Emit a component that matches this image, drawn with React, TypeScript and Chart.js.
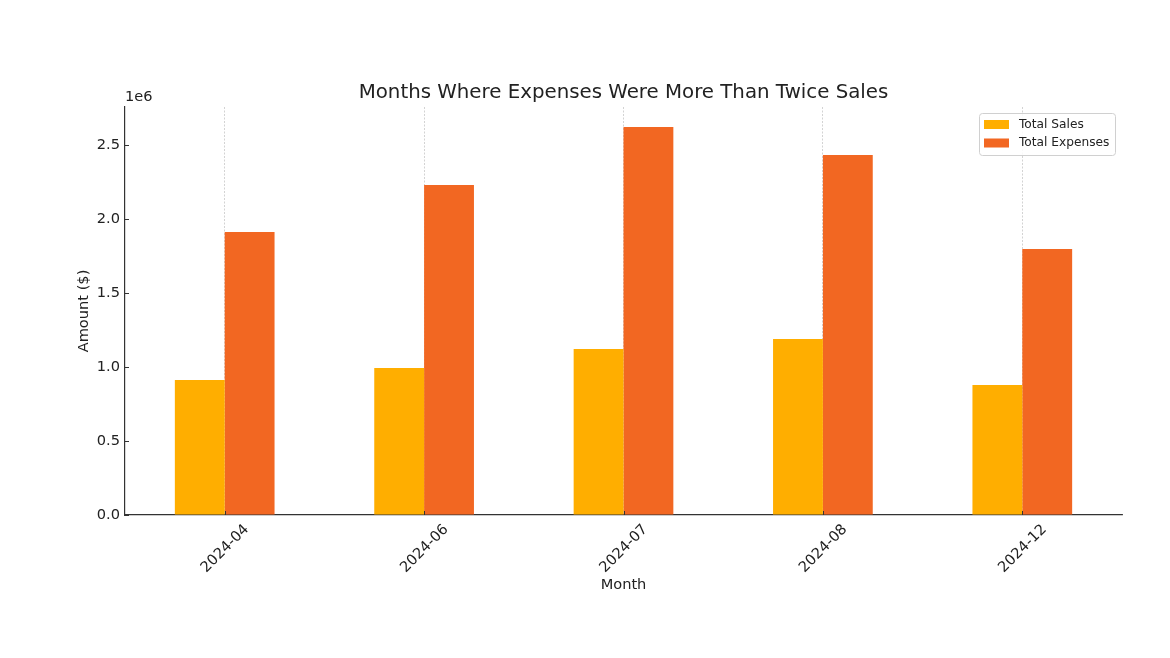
import React, { useEffect, useRef } from "react";
import { Chart, registerables } from "chart.js";

Chart.register(...registerables);

const months = ["2024-04", "2024-06", "2024-07", "2024-08", "2024-12"];
const totalSales = [912000, 993000, 1122000, 1189000, 878000];
const totalExpenses = [1912000, 2230000, 2622000, 2432000, 1797000];
const yTicks = [0, 500000, 1000000, 1500000, 2000000, 2500000];

const chartTitle = "Months Where Expenses Were More Than Twice Sales";
const salesColor = "#FFAE00";
const expensesColor = "#F26722";
const FONT = "'DejaVu Sans', sans-serif";
const TICK_SIZE = 14.6;

const overlayPlugin = {
  id: "overlay",
  afterDraw(chart: any) {
    const { ctx, chartArea, scales } = chart;
    ctx.save();
    // inward tick marks
    ctx.strokeStyle = "#333";
    ctx.lineWidth = 1;
    ctx.beginPath();
    yTicks.forEach((v) => {
      const py = Math.round(scales.y.getPixelForValue(v)) + 0.5;
      ctx.moveTo(chartArea.left, py);
      ctx.lineTo(chartArea.left + 4, py);
    });
    months.forEach((_, i) => {
      const px = Math.round(scales.x.getPixelForValue(i)) + 0.5;
      ctx.moveTo(px, chartArea.bottom);
      ctx.lineTo(px, chartArea.bottom - 4);
    });
    ctx.stroke();
    // title
    ctx.fillStyle = "#222";
    ctx.font = `19.8px ${FONT}`;
    ctx.textAlign = "center";
    ctx.textBaseline = "middle";
    ctx.fillText(chartTitle, (chartArea.left + chartArea.right) / 2, 93);
    // offset text
    ctx.font = `${TICK_SIZE}px ${FONT}`;
    ctx.textAlign = "left";
    ctx.fillText("1e6", chartArea.left, 97);
    // legend
    const lx = 979, ly = 113, lw = 136, lh = 42;
    ctx.beginPath();
    (ctx as any).roundRect(lx + 0.5, ly + 0.5, lw, lh, 3);
    ctx.fillStyle = "rgba(255,255,255,0.85)";
    ctx.fill();
    ctx.strokeStyle = "#d0d0d0";
    ctx.lineWidth = 1;
    ctx.stroke();
    const items = [
      { label: "Total Sales", color: salesColor },
      { label: "Total Expenses", color: expensesColor },
    ];
    ctx.font = `12.2px ${FONT}`;
    ctx.textBaseline = "middle";
    items.forEach((it, i) => {
      const cy = 124.5 + i * 18.5;
      ctx.fillStyle = it.color;
      ctx.fillRect(984, cy - 4.5, 25, 9);
      ctx.fillStyle = "#222";
      ctx.fillText(it.label, 1019, cy);
    });
    ctx.restore();
  },
};

export default function App() {
  const ref = useRef<HTMLCanvasElement | null>(null);
  useEffect(() => {
    if (!ref.current) return;
    const chart = new Chart(ref.current, {
      type: "bar",
      data: {
        labels: months,
        datasets: [
          {
            label: "Total Sales",
            data: totalSales,
            backgroundColor: salesColor,
            categoryPercentage: 0.5,
            barPercentage: 1.0,
          },
          {
            label: "Total Expenses",
            data: totalExpenses,
            backgroundColor: expensesColor,
            categoryPercentage: 0.5,
            barPercentage: 1.0,
          },
        ],
      },
      options: {
        animation: false,
        responsive: false,
        maintainAspectRatio: false,
        layout: { padding: { left: 0, right: 48, top: 107, bottom: 0 } },
        plugins: {
          legend: { display: false },
          title: { display: false },
          tooltip: { enabled: false },
        },
        scales: {
          x: {
            type: "category",
            afterFit: (s: any) => {
              s.height = 143;
            },
            grid: {
              display: true,
              offset: false,
              drawOnChartArea: true,
              drawTicks: false,
              color: "#c8c8c8",
              lineWidth: 0.8,
            },
            border: { display: true, color: "#333", width: 1.2, dash: [2, 1.5] },
            ticks: {
              color: "#222",
              font: { family: FONT, size: TICK_SIZE },
              maxRotation: 45,
              minRotation: 45,
              labelOffset: 22,
              padding: 6,
            },
            title: {
              display: true,
              text: "Month",
              color: "#222",
              font: { family: FONT, size: TICK_SIZE },
              padding: { top: 0, bottom: 64 },
            },
          },
          y: {
            min: 0,
            max: 2757000,
            afterFit: (s: any) => {
              s.width = 125;
            },
            afterBuildTicks: (s: any) => {
              s.ticks = yTicks.map((v) => ({ value: v }));
            },
            grid: {
              display: true,
              drawOnChartArea: false,
              drawTicks: false,
            },
            border: { display: true, color: "#333", width: 1.2 },
            ticks: {
              color: "#222",
              font: { family: FONT, size: TICK_SIZE },
              padding: 5,
              callback: (v: any) => (Number(v) / 1e6).toFixed(1),
            },
            title: {
              display: true,
              text: "Amount ($)",
              color: "#222",
              font: { family: FONT, size: TICK_SIZE },
              padding: { top: 75, bottom: 0 },
            },
          },
        },
      },
      plugins: [overlayPlugin],
    });
    return () => chart.destroy();
  }, []);
  return (
    <div style={{ position: "absolute", left: 0, top: 0, width: 1170, height: 658, background: "#fff" }}>
      <canvas ref={ref} width={1170} height={658} style={{ display: "block" }} />
    </div>
  );
}
